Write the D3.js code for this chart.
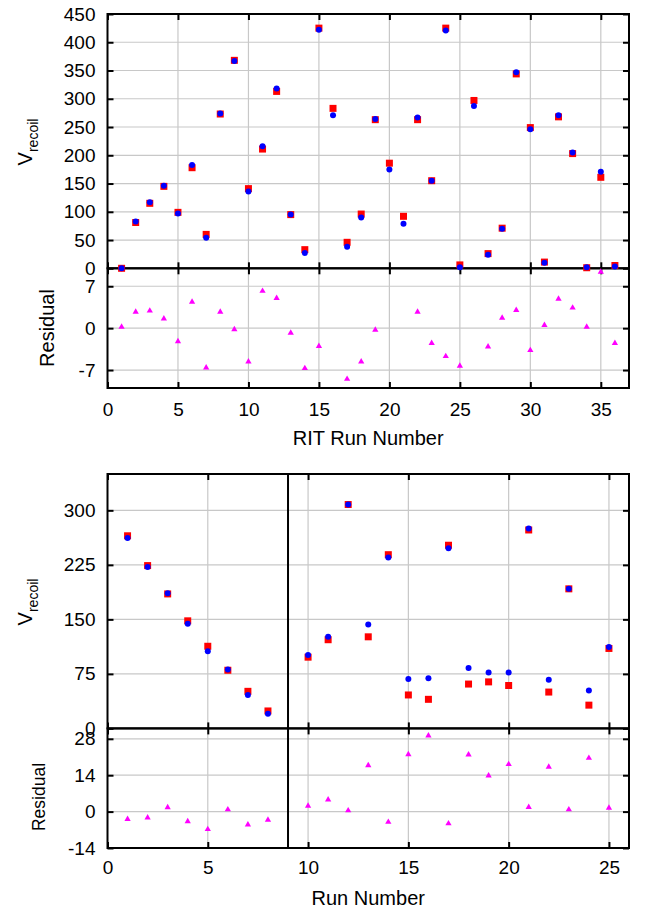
<!DOCTYPE html>
<html>
<head>
<meta charset="utf-8">
<style>
body { margin: 0; background: #fff; }
text { font-family: "Liberation Sans", Arial, Helvetica, sans-serif; }
</style>
</head>
<body>
<svg width="646" height="909"></svg>
<script src="https://d3js.org/d3.v7.min.js"></script>
<script>
// ---- data ----
var ritRuns = [1,2,3,4,5,6,7,8,9,10,11,12,13,14,15,16,17,18,19,20,21,22,23,24,25,26,27,28,29,30,31,32,33,34,35,36];
var ritFit = [0,81,115,145,99,178,60,273,368,141,211,313,95,33,425,283,46,96,263,186,92,263,155,425,6,297,26,71,344,249,11,268,203,1,161,5];
var ritSim = [0,83,117,146,97,183,54,274,367,136,216,318,95,27,422,271,38,90,264,175,79,267,155,421,2,287,24,70,347,246,10,271,205,2,171,3];
var ritRes = [0.2,2.7,2.9,1.6,-2.2,4.4,-6.6,2.7,-0.2,-5.6,6.2,5.0,-0.8,-6.7,-3.0,null,-8.5,-5.6,-0.3,null,null,2.7,-2.5,-4.7,-6.3,null,-3.1,1.7,3.0,-3.7,0.5,4.9,3.4,0.2,9.4,-2.5];

var runs = [1,2,3,4,5,6,7,8,10,11,12,13,14,15,16,17,18,19,20,21,22,23,24,25];
var runFit = [265,224,185,148,113,80,51,24,98,122,308,126,239,46,40,252,61,64,59,273,50,192,32,110];
var runSim = [262,222,186,144,106,81,46,20,101,126,308,143,235,68,69,248,83,77,77,275,67,192,52,112];
var runRes = [-2.9,-2.3,1.6,-3.8,-6.8,0.8,-5.0,-3.2,2.2,4.6,0.4,17.8,-4.0,22.0,29.2,-4.6,21.9,13.8,18.2,1.7,17.2,0.8,20.6,1.4];

var svg = d3.select("svg");
var L = 107.5, R = 629;
var plain = function(d) { return String(d); };

function noDomain(g) { g.select(".domain").remove(); }

function drawPanel(p) {
  var x = d3.scaleLinear().domain([0, p.xMax]).range([L, R]);
  var y = d3.scaleLinear().domain([0, p.yMax]).range([p.y1, p.y0]);
  var yr = d3.scaleLinear().domain(p.resDomain).range([p.y2, p.y1]);
  var g = svg.append("g");

  // grid
  var grid = g.append("g").attr("stroke", "#c8c8c8").attr("stroke-width", 1.2);
  grid.selectAll(null).data(p.xTicks.filter(function(d) { return d > 0 && d < p.xMax; }))
    .enter().append("line")
    .attr("x1", x).attr("x2", x).attr("y1", p.y0).attr("y2", p.y2);
  grid.selectAll(null).data(p.yTicks.filter(function(d) { return d > 0 && d < p.yMax; }))
    .enter().append("line")
    .attr("x1", L).attr("x2", R).attr("y1", y).attr("y2", y);
  grid.selectAll(null).data(p.resTicks.filter(function(d) { return d > p.resDomain[0] && d < p.resDomain[1]; }))
    .enter().append("line")
    .attr("x1", L).attr("x2", R).attr("y1", yr).attr("y2", yr);

  // frames
  g.append("rect").attr("x", L).attr("y", p.y0).attr("width", R - L).attr("height", p.y1 - p.y0)
    .attr("fill", "none").attr("stroke", "#000").attr("stroke-width", 2);
  g.append("rect").attr("x", L).attr("y", p.y1).attr("width", R - L).attr("height", p.y2 - p.y1)
    .attr("fill", "none").attr("stroke", "#000").attr("stroke-width", 2);
  if (p.divider != null) {
    g.append("line").attr("x1", x(p.divider)).attr("x2", x(p.divider))
      .attr("y1", p.y0).attr("y2", p.y2).attr("stroke", "#000").attr("stroke-width", 2);
  }

  // axes
  function style(a) {
    a.call(noDomain);
    a.attr("font-family", null).attr("font-size", 19);
    a.selectAll(".tick line").attr("stroke-width", 2);
    a.selectAll("text").attr("fill", "#000");
  }
  g.append("g").attr("transform", "translate(" + L + ",0)")
    .call(d3.axisLeft(y).tickValues(p.yTicks).tickSize(-6).tickPadding(12).tickFormat(plain)).call(style);
  g.append("g").attr("transform", "translate(" + R + ",0)")
    .call(d3.axisRight(y).tickValues(p.yTicks).tickSize(-6).tickFormat("")).call(style);
  g.append("g").attr("transform", "translate(" + L + ",0)")
    .call(d3.axisLeft(yr).tickValues(p.resTicks).tickSize(-6).tickPadding(12).tickFormat(plain)).call(style);
  g.append("g").attr("transform", "translate(" + R + ",0)")
    .call(d3.axisRight(yr).tickValues(p.resTicks).tickSize(-6).tickFormat("")).call(style);
  g.append("g").attr("transform", "translate(0," + p.y0 + ")")
    .call(d3.axisTop(x).tickValues(p.xTicks).tickSize(-6).tickFormat("")).call(style);
  g.append("g").attr("transform", "translate(0," + p.y1 + ")")
    .call(d3.axisBottom(x).tickValues(p.xTicks).tickSize(-6).tickFormat("")).call(style);
  g.append("g").attr("transform", "translate(0," + p.y1 + ")")
    .call(d3.axisTop(x).tickValues(p.xTicks).tickSize(-6).tickFormat("")).call(style);
  g.append("g").attr("transform", "translate(0," + p.y2 + ")")
    .call(d3.axisBottom(x).tickValues(p.xTicks).tickSize(-6).tickPadding(p.xPad).tickFormat(plain)).call(style);

  // points
  var sq = d3.symbol().type(d3.symbolSquare).size(49);
  var tri = d3.symbol().type(d3.symbolTriangle).size(17);
  g.append("g").selectAll("path").data(p.runs).enter().append("path")
    .attr("d", sq)
    .attr("transform", function(d, i) { return "translate(" + x(d) + "," + y(p.fit[i]) + ")"; })
    .attr("fill", "#ff0000");
  g.append("g").selectAll("circle").data(p.runs).enter().append("circle")
    .attr("cx", x).attr("cy", function(d, i) { return y(p.sim[i]); })
    .attr("r", 3).attr("fill", "#0000ff");
  g.append("g").selectAll("path").data(p.runs.filter(function(d, i) { return p.res[i] != null; }))
    .enter().append("path")
    .attr("d", tri)
    .attr("transform", function(d) { var i = p.runs.indexOf(d); return "translate(" + x(d) + "," + yr(p.res[i]) + ")"; })
    .attr("fill", "#ff00ff");

  // titles
  g.append("text").attr("x", (L + R) / 2).attr("y", p.xTitleY)
    .attr("text-anchor", "middle").attr("font-size", 20).text(p.xTitle);
  var vt = g.append("text").attr("transform", "translate(32," + p.vY + ") rotate(-90)")
    .attr("text-anchor", "middle").attr("font-size", 20);
  vt.append("tspan").text("V");
  vt.append("tspan").attr("font-size", 14).attr("dy", 6).text("recoil");
  g.append("text").attr("transform", "translate(" + p.resX + "," + p.resY + ") rotate(-90)")
    .attr("text-anchor", "middle").attr("font-size", p.resFont).text("Residual");
}

drawPanel({
  runs: ritRuns, fit: ritFit, sim: ritSim, res: ritRes,
  xMax: 37, xTicks: [0,5,10,15,20,25,30,35],
  yMax: 450, yTicks: [0,50,100,150,200,250,300,350,400,450],
  resDomain: [-10, 10], resTicks: [-7, 0, 7],
  y0: 14, y1: 268.3, y2: 388, xPad: 14.5,
  xTitle: "RIT Run Number", xTitleY: 445,
  vY: 142, resX: 54, resY: 328, resFont: 20, divider: null
});

drawPanel({
  runs: runs, fit: runFit, sim: runSim, res: runRes,
  xMax: 26, xTicks: [0,5,10,15,20,25],
  yMax: 350, yTicks: [0,75,150,225,300],
  resDomain: [-14, 32], resTicks: [-14, 0, 14, 28],
  y0: 474, y1: 728.4, y2: 848, xPad: 12.5,
  xTitle: "Run Number", xTitleY: 905,
  vY: 602, resX: 45, resY: 797, resFont: 17.5, divider: 9
});
</script>
</body>
</html>
